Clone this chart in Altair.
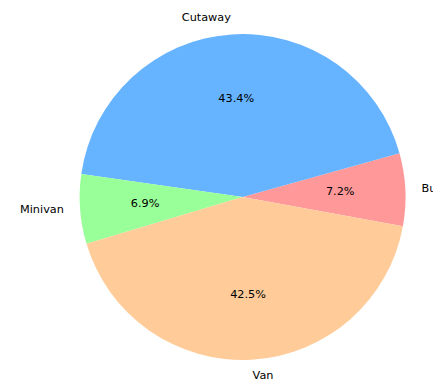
import math
import altair as alt
import pandas as pd

# Data (percent shares)
categories = ["Bus", "Cutaway", "Minivan", "Van"]
shares = [7.2, 43.4, 6.9, 42.5]
colors = ["#ff9999", "#66b3ff", "#99ff99", "#ffcc99"]
left_side = ["Cutaway", "Minivan"]
right_side = ["Bus", "Van"]

df = pd.DataFrame({"category": categories, "share": shares, "idx": list(range(len(categories)))})

# matplotlib-style: counterclockwise from start angle (-10.3 deg from 3 o'clock)
start_deg = -10.3
a0 = math.radians(90 - start_deg)
theta_scale = alt.Scale(domain=[0, 100], range=[a0, a0 - 2 * math.pi])

CX, CY = 239, 189
R = 166
FONT = "DejaVu Sans"
FS = 11.5

base = alt.Chart(df).transform_window(
    end="sum(share)", sort=[alt.SortField("idx")], frame=[None, 0]
).transform_calculate(
    start="datum.end - datum.share",
    mid="datum.end - datum.share / 2",
    pct="format(datum.share, '.1f') + '%'",
)

arcs = base.mark_arc(radius=R).encode(
    theta=alt.Theta("start:Q", scale=theta_scale, stack=False),
    theta2="end:Q",
    color=alt.Color("category:N", scale=alt.Scale(domain=categories, range=colors), legend=None),
    x=alt.value(CX),
    y=alt.value(CY),
)

pct = base.mark_text(radius=0.6 * R, font=FONT, fontSize=FS, color="#000000",
                     align="center", baseline="middle").encode(
    theta=alt.Theta("mid:Q", scale=theta_scale, stack=False),
    text="pct:N",
    x=alt.value(CX),
    y=alt.value(CY),
)

lab_left = base.transform_filter(
    alt.FieldOneOfPredicate(field="category", oneOf=left_side)
).mark_text(radius=1.1 * R, font=FONT, fontSize=FS, color="#000000",
            align="right", baseline="middle").encode(
    theta=alt.Theta("mid:Q", scale=theta_scale, stack=False),
    text="category:N",
    x=alt.value(CX),
    y=alt.value(CY),
)

lab_right = base.transform_filter(
    alt.FieldOneOfPredicate(field="category", oneOf=right_side)
).mark_text(radius=1.1 * R, font=FONT, fontSize=FS, color="#000000",
            align="left", baseline="middle").encode(
    theta=alt.Theta("mid:Q", scale=theta_scale, stack=False),
    text="category:N",
    x=alt.value(CX),
    y=alt.value(CY),
)

chart = alt.layer(arcs, pct, lab_left, lab_right).properties(
    width=433, height=381, autosize="none", padding=0
).configure_view(stroke=None)

chart.save("out.html", embed_options={"renderer": "svg", "actions": False})
